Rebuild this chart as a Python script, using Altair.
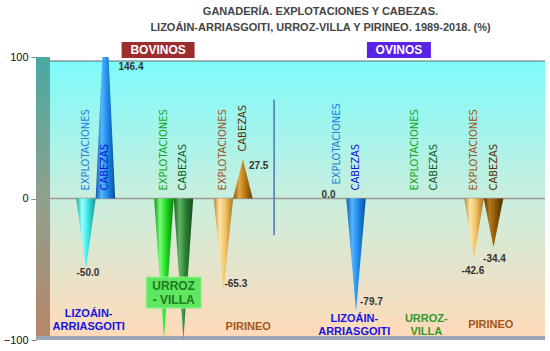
import altair as alt
import pandas as pd

# ---------------- data ----------------
title_lines = ["GANADERÍA. EXPLOTACIONES Y CABEZAS.",
               "LIZOÁIN-ARRIASGOITI, URROZ-VILLA Y PIRINEO. 1989-2018. (%)"]
groups = ["BOVINOS", "OVINOS"]
regions = ["LIZOÁIN-ARRIASGOITI", "URROZ-VILLA", "PIRINEO"]
measures = ["EXPLOTACIONES", "CABEZAS"]
# order: Lizoáin expl, Lizoáin cab, Urroz expl, Urroz cab, Pirineo expl, Pirineo cab
bovinos_values = [-50.0, 146.4, -100.0, -100.0, -65.3, 27.5]
ovinos_values = [0.0, -79.7, None, None, -42.6, -34.4]
bovinos_labels = ["-50.0", "146.4", None, None, "-65.3", "27.5"]
ovinos_labels = ["0.0", "-79.7", None, None, "-42.6", "-34.4"]
region_text_bov = [["LIZOÁIN-", "ARRIASGOITI"], ["URROZ", "- VILLA"], ["PIRINEO"]]
region_text_ov = [["LIZOÁIN-", "ARRIASGOITI"], ["URROZ-", "VILLA"], ["PIRINEO"]]
y_ticks = [-100, 0, 100]

# ---------------- layout / style ----------------
W, H = 509, 283
WALL = 14
GROUP_OFFSET = 12.85
REGION_OFFSETS = [0.0, 4.0, 7.05]
X_DOMAIN = [-2.56, 23.54]
HALF = 0.5

NARROW = "Liberation Sans Narrow, Arial Narrow, DejaVu Sans Condensed, sans-serif"
SANS = "Liberation Sans, Arial, sans-serif"

cone_colors = {
    ("BOVINOS", 0, 0): ["#17A6A6", "#9AFFFF", "#3BE6E6", "#129090"],
    ("BOVINOS", 0, 1): ["#0A5AB0", "#55B5FF", "#1E8AEA", "#0A4E98"],
    ("BOVINOS", 1, 0): ["#0E950E", "#7CFF7C", "#22DD22", "#0B7F0B"],
    ("BOVINOS", 1, 1): ["#1B5E20", "#5FB865", "#2E8035", "#164A1A"],
    ("BOVINOS", 2, 0): ["#B8842C", "#FFE3A6", "#F2C263", "#A87424"],
    ("BOVINOS", 2, 1): ["#7E5006", "#E4A545", "#B97A12", "#684205"],
    ("OVINOS", 0, 0): ["#17A6A6", "#9AFFFF", "#3BE6E6", "#129090"],
    ("OVINOS", 0, 1): ["#0A5AB0", "#55B5FF", "#1E8AEA", "#0A4E98"],
    ("OVINOS", 2, 0): ["#B8842C", "#FFE3A6", "#F2C263", "#A87424"],
    ("OVINOS", 2, 1): ["#5C3600", "#B47A22", "#8A5800", "#4A2C00"],
}
measure_label_colors = [["#1F80DA", "#1212D6"], ["#14A514", "#0F5C1F"], ["#A0521A", "#5A3000"]]
region_label_colors = ["#1414E0", "#2E9A2E", "#A3561A"]
# per region label: (x nudge px, y anchor in axis units)
region_label_place = {
    ("BOVINOS", 0): (-7, -81.5),
    ("BOVINOS", 2): (15, -90.5),
    ("OVINOS", 0): (8, -85.5),
    ("OVINOS", 1): (2, -85.5),
    ("OVINOS", 2): (7, -89.5),
}
value_label_offsets = {
    ("BOVINOS", 0, 0): (2, 4, "center"),
    ("BOVINOS", 0, 1): (13, 10, "left"),
    ("BOVINOS", 2, 0): (1, -7, "left"),
    ("BOVINOS", 2, 1): (6, 6, "left"),
    ("OVINOS", 0, 0): (-1, -4, "right"),
    ("OVINOS", 0, 1): (4, -9, "left"),
    ("OVINOS", 2, 0): (-1, 12, "center"),
    ("OVINOS", 2, 1): (1, 12, "center"),
}

# ---------------- build tables ----------------
cones, labels_m, labels_v, regions_rows = [], [], [], []
for gi, (g, vals, vlabs, rtexts) in enumerate([
        ("BOVINOS", bovinos_values, bovinos_labels, region_text_bov),
        ("OVINOS", ovinos_values, ovinos_labels, region_text_ov)]):
    for ri, r in enumerate(regions):
        rc = gi * GROUP_OFFSET + REGION_OFFSETS[ri]
        regions_rows.append({"group": g, "region": r, "x": rc + 0.5,
                             "text": rtexts[ri], "color": region_label_colors[ri], "ri": ri})
        for mi, m in enumerate(measures):
            k = ri * 2 + mi
            v = vals[k]
            pos = rc + mi
            base = 0.0 if (v is None or v > 100 or v < 0) else v
            labels_m.append({"id": f"{g}-{r}-{m}", "x": pos, "base": base, "text": m,
                             "color": measure_label_colors[ri][mi],
                             "extra": 6 if v == 0.0 else 0})
            if v is None:
                continue
            cid = f"{g}-{r}-{m}"
            if v != 0.0:
                for dx, yy in [(-HALF, 0.0), (0.0, v), (HALF, 0.0)]:
                    cones.append({"id": cid, "x": pos + dx, "y": yy, "key": (g, ri, mi)})
            if vlabs[k] is not None:
                odx, ody, oal = value_label_offsets[(g, ri, mi)]
                labels_v.append({"x": pos, "y": max(-100, min(100, v)), "text": vlabs[k],
                                 "dx": odx, "dy": ody, "align": oal})

cone_df = pd.DataFrame(cones)
xs = alt.Scale(domain=X_DOMAIN, nice=False, zero=False)
ys = alt.Scale(domain=[-100, 100], nice=False, zero=False)

base = alt.Chart(pd.DataFrame({"a": [0]}))

# background back wall
back = base.mark_rect(fill=alt.Gradient(gradient="linear",
                      stops=[alt.GradientStop(color="#7DFBFB", offset=0),
                             alt.GradientStop(color="#C9EEDD", offset=0.5),
                             alt.GradientStop(color="#FFDAB9", offset=1)],
                      x1=0, x2=0, y1=0, y2=1)).encode(
    x=alt.value(WALL), x2=alt.value(W), y=alt.value(4), y2=alt.value(H - 4))
wall = base.mark_rect(fill=alt.Gradient(gradient="linear",
                      stops=[alt.GradientStop(color="#4AA8A4", offset=0),
                             alt.GradientStop(color="#8FA08C", offset=0.5),
                             alt.GradientStop(color="#B8866A", offset=1)],
                      x1=0, x2=0, y1=0, y2=1)).encode(
    x=alt.value(0), x2=alt.value(WALL), y=alt.value(0), y2=alt.value(H))
floor = base.mark_rect(fill="#9AA6B4").encode(
    x=alt.value(0), x2=alt.value(W), y=alt.value(H - 4), y2=alt.value(H))
topline = base.mark_rule(color="#666666", strokeWidth=1).encode(
    x=alt.value(WALL), x2=alt.value(W), y=alt.value(4))
zero = base.mark_rule(color="#9A9A9A", strokeWidth=1.5).encode(
    y=alt.datum(0, scale=ys), x=alt.value(0), x2=alt.value(W))

layers = [back, wall, floor, topline, zero]

# cones
for key, stops in cone_colors.items():
    sub = cone_df[cone_df["key"] == key]
    if sub.empty:
        continue
    grad = alt.Gradient(gradient="linear",
                        stops=[alt.GradientStop(color=stops[0], offset=0),
                               alt.GradientStop(color=stops[1], offset=0.3),
                               alt.GradientStop(color=stops[2], offset=0.6),
                               alt.GradientStop(color=stops[3], offset=1)],
                        x1=0, x2=1, y1=0, y2=0)
    layers.append(alt.Chart(sub.drop(columns=["key"])).mark_area(fill=grad, clip=True).encode(
        x=alt.X("x:Q", scale=xs, axis=None),
        y=alt.Y("y:Q", scale=ys),
        y2=alt.datum(0),
        detail="id:N"))

# divider
layers.append(base.mark_rule(color="#4A78B8", strokeWidth=1.5).encode(
    x=alt.datum(9.65, scale=xs), y=alt.datum(70, scale=ys), y2=alt.datum(-26)))

# measure labels (rotated)
lm = pd.DataFrame(labels_m)
for extra in sorted(lm["extra"].unique()):
    sub = lm[lm["extra"] == extra]
    layers.append(alt.Chart(sub).mark_text(angle=270, align="left", baseline="middle",
                                           dx=8 + int(extra), font=NARROW, fontSize=11).encode(
        x=alt.X("x:Q", scale=xs), y=alt.Y("base:Q", scale=ys),
        text="text:N", color=alt.Color("color:N", scale=None)))

# value labels
lv = pd.DataFrame(labels_v)
for (dx, dy, al), sub in lv.groupby(["dx", "dy", "align"]):
    layers.append(alt.Chart(sub).mark_text(dx=int(dx), dy=int(dy), align=al, baseline="middle",
                                           font=SANS, fontSize=10, fontWeight="bold",
                                           color="#333333").encode(
        x=alt.X("x:Q", scale=xs), y=alt.Y("y:Q", scale=ys), text="text:N"))

# region labels
rr = pd.DataFrame(regions_rows)
box_row = rr[(rr["group"] == "BOVINOS") & (rr["ri"] == 1)]
layers.append(alt.Chart(box_row).mark_rect(width=55, height=31, fill="#5FE85F",
                                           stroke="#8CF58C", strokeWidth=1).encode(
    x=alt.X("x:Q", scale=xs), y=alt.datum(-66.5, scale=ys)))
layers.append(alt.Chart(box_row).mark_text(font=SANS, fontSize=12, fontWeight="bold",
                                           color="#1E7A1E", baseline="middle",
                                           lineHeight=14, dy=-7).encode(
    x=alt.X("x:Q", scale=xs), y=alt.datum(-66.5, scale=ys), text="text"))
for (g, ri), (ndx, yv) in region_label_place.items():
    sub = rr[(rr["group"] == g) & (rr["ri"] == ri)]
    layers.append(alt.Chart(sub).mark_text(font=SANS, fontSize=11, fontWeight="bold",
                                           baseline="middle", lineHeight=13, dx=ndx).encode(
        x=alt.X("x:Q", scale=xs), y=alt.datum(yv, scale=ys), text="text",
        color=alt.Color("color:N", scale=None)))

# group boxes
gb = pd.DataFrame({"group": groups, "x": [3.7, 16.05],
                   "fill": ["#9E2E2E", "#5A22E6"], "w": [73, 64]})
for _, row in gb.iterrows():
    sub = gb[gb["group"] == row["group"]]
    layers.append(alt.Chart(sub).mark_rect(width=int(row["w"]), height=16).encode(
        x=alt.X("x:Q", scale=xs), y=alt.value(-7),
        color=alt.Color("fill:N", scale=None)))
layers.append(alt.Chart(gb).mark_text(font=SANS, fontSize=12, fontWeight="bold",
                                      color="white", baseline="middle").encode(
    x=alt.X("x:Q", scale=xs), y=alt.value(-7), text="group:N"))

# axis layer
axis_layer = base.mark_point(opacity=0).encode(
    y=alt.Y("a:Q", scale=ys, title=None,
            axis=alt.Axis(values=y_ticks, grid=False, labelFont=SANS, labelFontSize=11,
                          labelColor="#111111", tickColor="#888888", tickSize=5,
                          domainColor="#888888", labelPadding=3)))
layers.insert(0, axis_layer)

chart = alt.layer(*layers).properties(
    width=W, height=H,
    title=alt.TitleParams(title_lines, anchor="middle", frame="group", dx=30, offset=9,
                          font=SANS, fontSize=11, fontWeight="bold", color="#444444",
                          lineHeight=16),
    autosize=alt.AutoSizeParams(type="none"),
    padding={"left": 36, "top": 57, "right": 5, "bottom": 11},
    background="white",
).configure_view(stroke=None)

chart.save("out.html", embed_options={"renderer": "svg", "actions": False})
